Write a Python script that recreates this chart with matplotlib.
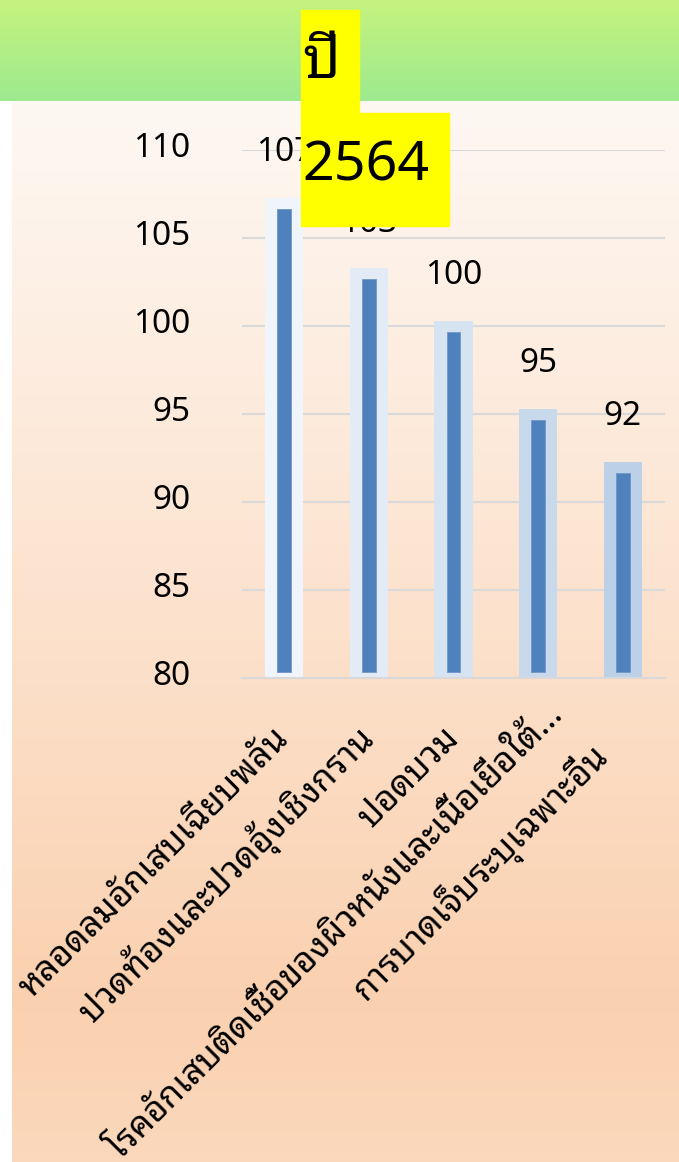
import numpy as np
import matplotlib
matplotlib.use('Agg')
import matplotlib.pyplot as plt
from matplotlib import font_manager
from matplotlib.ft2font import FT2Font
from matplotlib.colors import to_rgb
from matplotlib.patches import Rectangle
from matplotlib.transforms import ScaledTranslation

categories = ['หลอดลมอักเสบเฉียบพลัน', 'ปวดท้องและปวดอุ้งเชิงกราน', 'ปอดบวม',
              'โรคอักเสบติดเชื้อของผิวหนังและเนื้อเยื่อใต้…', 'การบาดเจ็บระบุเฉพาะอื่น']
values = [107, 103, 100, 95, 92]
y_ticks = [80, 85, 90, 95, 100, 105, 110]
year_word = 'ปี'
year_num = '2564'


def find_thai_font():
    # look for any installed font that has Thai glyphs
    found = []
    for f in font_manager.fontManager.ttflist:
        try:
            if 0x0E1B in FT2Font(f.fname).get_charmap():
                found.append(f.name)
        except Exception:
            continue
    prefs = ['Tahoma', 'Leelawadee', 'Noto Sans Thai', 'Loma', 'Garuda', 'Sarabun']
    for p in prefs:
        for n in found:
            if n.startswith(p):
                return n
    return found[0] if found else None


thai = find_thai_font()
families = [thai, 'DejaVu Sans'] if thai else ['DejaVu Sans']
plt.rcParams['font.family'] = families

W, H = 679, 1162
fig = plt.figure(figsize=(W / 100, H / 100), dpi=100)

# background: green header band + peach gradient panel
bg = fig.add_axes([0, 0, 1, 1], zorder=-5)
bg.set_xlim(0, W)
bg.set_ylim(H, 0)
bg.axis('off')


def vgrad(stops, n=256):
    pos = [s[0] for s in stops]
    cols = np.array([to_rgb(s[1]) for s in stops])
    t = np.linspace(0, 1, n)
    img = np.stack([np.interp(t, pos, cols[:, k]) for k in range(3)], axis=-1)
    return img[:, None, :]


bg.imshow(vgrad([(0, '#c6f37e'), (1, '#9dea8f')]), extent=(0, W, 101, 0), aspect='auto')
bg.imshow(vgrad([(0, '#fef8f3'), (0.55, '#fcdfc8'), (0.85, '#fad1b0'), (1, '#fbd8bc')]),
          extent=(12, W, H, 101), aspect='auto')

ax = fig.add_axes([242 / W, 1 - 678 / H, 423 / W, 528 / H], zorder=2)
ax.patch.set_alpha(0)
x = np.arange(len(categories))
vals = np.array(values, dtype=float)

glow = [np.array(to_rgb('#f0f5fb')) * (1 - t) + np.array(to_rgb('#bcd0e7')) * t
        for t in np.linspace(0, 1, len(x))]
ax.bar(x, vals - 80 + 0.45, bottom=79.85, width=0.45, color=glow, zorder=2)
ax.bar(x, vals - 80 - 0.7, bottom=80.35, width=0.165, color='#4f81bd',
       edgecolor='#6f97c9', linewidth=0.6, zorder=3)

for xi, v in zip(x, values):
    ax.annotate(str(v), (xi, v), xytext=(0, 36), textcoords='offset points',
                ha='center', va='center', fontsize=24, color='black')

ax.set_xlim(-0.5, len(x) - 0.5)
ax.set_ylim(80, 110)
ax.set_yticks(y_ticks)
ax.yaxis.grid(True, color='#d9d9d9', linewidth=1.5, zorder=0)
ax.set_axisbelow(True)
ax.tick_params(axis='y', length=0, pad=37, labelsize=24)
ax.tick_params(axis='x', length=0, pad=40, labelsize=25)
ax.set_xticks(x, categories, rotation=45, ha='right', va='center', rotation_mode='anchor')
# numbers sit a little above their grid lines
up = ScaledTranslation(0, 4 / 72, fig.dpi_scale_trans)
for lab in ax.get_yticklabels():
    lab.set_transform(lab.get_transform() + up)
# small nudges of the slanted labels, as in the source layout
nudges = [(0, 0), (0, 0), (0, 0), (15, 17), (-15, -12)]
for lab, (dx, dy) in zip(ax.get_xticklabels(), nudges):
    lab.set_transform(lab.get_transform() + ScaledTranslation(dx / 72, dy / 72, fig.dpi_scale_trans))
for s in ['left', 'right', 'top']:
    ax.spines[s].set_visible(False)
ax.spines['bottom'].set_color('#d9d9d9')
ax.spines['bottom'].set_linewidth(1.5)
ax.spines['bottom'].set_zorder(4)

# yellow year badge on top
top = fig.add_axes([0, 0, 1, 1], zorder=10)
top.set_xlim(0, W)
top.set_ylim(H, 0)
top.axis('off')
top.add_patch(Rectangle((301, 10), 58, 103, color='#ffff00'))
top.add_patch(Rectangle((301, 113), 148, 113, color='#ffff00'))
top.text(302, 62, year_word, fontsize=42, ha='left', va='center')
top.text(302, 166, year_num, fontsize=40, ha='left', va='center')

fig.savefig('out.png', dpi=100)
